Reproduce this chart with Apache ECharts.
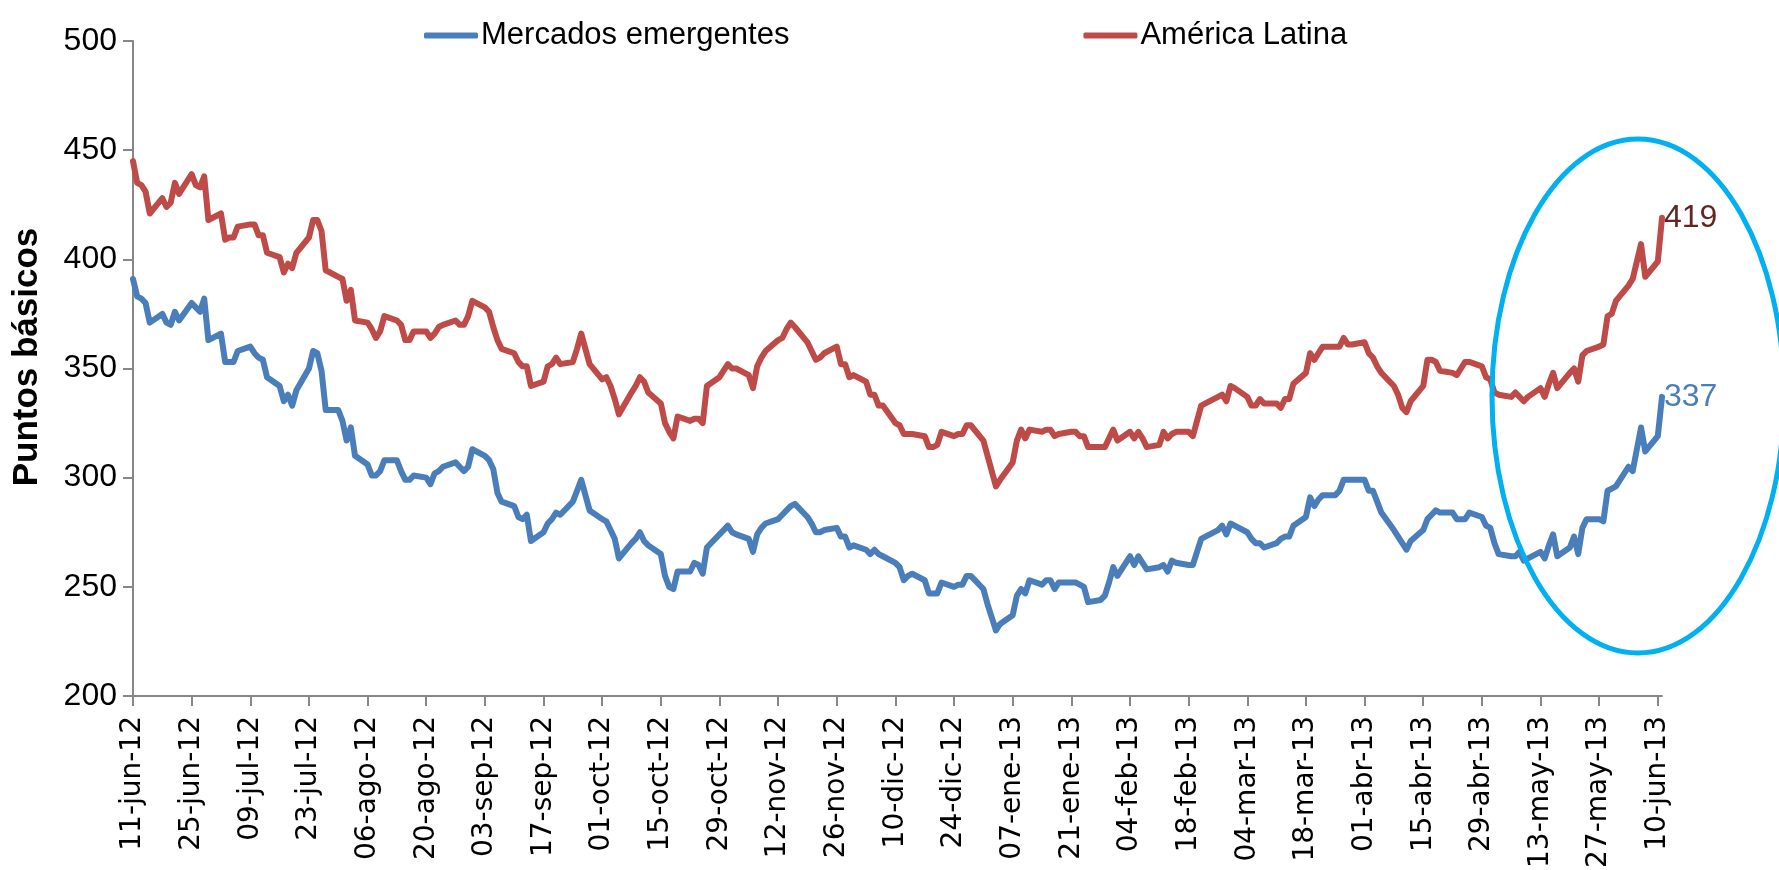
<!DOCTYPE html>
<html>
<head>
<meta charset="utf-8">
<title>Spreads</title>
<script src="https://cdn.jsdelivr.net/npm/echarts@6/dist/echarts.min.js"></script>
<style>
  html, body { margin: 0; padding: 0; background: #fff; }
  #chart { width: 1779px; height: 870px; }
</style>
</head>
<body>
<div id="chart"></div>
<script>
// valores diarios (solo dias habiles), desde 11-jun-12 hasta 11-jun-13
const latam = [
  445, 435, 434, 431, 421,  428, 424, 426, 435, 430,  439, 434, 433, 438, 418,
  421, 409, 410, 410, 415,  416, 416, 411, 411, 403,  401, 394, 398, 396, 403,
  410, 418, 418, 413, 395,  392, 391, 381, 386, 372,  371, 368, 364, 367, 374,
  372, 370, 363, 363, 367,  367, 364, 366, 369, 370,  372, 370, 370, 374, 381,
  378, 376, 369, 363, 359,  357, 353, 351, 351, 342,  344, 351, 352, 355, 352,
  353, 359, 366, 359, 352,  345, 346, 342, 336, 329,  339, 342, 346, 344, 339,
  334, 325, 321, 318, 328,  326, 327, 327, 325, 342,  346, 349, 352, 350, 350,
  347, 341, 351, 355, 358,  363, 364, 368, 371, 369,  362, 358, 354, 355, 357,
  360, 352, 352, 346, 347,  344, 338, 338, 333, 333,  325, 324, 320, 320, 320,
  319, 314, 314, 315, 321,  319, 320, 320, 324, 324,  317, 310, 303, 296, 299,
  307, 317, 322, 318, 322,  321, 322, 322, 319, 320,  321, 321, 319, 319, 314,
  314, 314, 318, 322, 317,  321, 318, 321, 318, 314,  315, 321, 318, 320, 321,
  321, 319, 326, 333, 334,  337, 338, 335, 342, 341,  337, 333, 333, 336, 334,
  334, 332, 336, 336, 343,  348, 357, 354, 357, 360,  360, 360, 364, 361, 361,
  362, 357, 355, 351, 348,  342, 338, 332, 330, 335,  342, 354, 354, 353, 349,
  348, 347, 350, 353, 353,  351, 346, 345, 339, 338,  337, 339, 337, 335, 337,
  341, 337, 343, 348, 341,  348, 350, 344, 356, 358,  360, 361, 374, 375, 381,
  388, 391, 399, 407, 392,  399, 419
];
const emergentes = [
  391, 383, 382, 380, 371,  375, 371, 370, 376, 372,  380, 378, 376, 382, 363,
  366, 353, 353, 353, 358,  360, 357, 355, 354, 346,  342, 335, 338, 333, 340,
  350, 358, 357, 349, 331,  331, 326, 317, 323, 310,  306, 301, 301, 303, 308,
  308, 303, 299, 299, 301,  300, 297, 302, 303, 305,  307, 305, 303, 305, 313,
  310, 308, 304, 293, 289,  287, 282, 281, 283, 271,  275, 279, 281, 284, 283,
  289, 294, 299, 292, 285,  281, 280, 276, 272, 263,  270, 272, 275, 271, 269,
  265, 255, 250, 249, 257,  257, 261, 260, 256, 268,  274, 276, 278, 275, 274,
  272, 266, 274, 277, 279,  281, 283, 285, 287, 288,  282, 279, 275, 275, 276,
  277, 273, 273, 268, 269,  267, 265, 267, 265, 264,  261, 259, 253, 255, 256,
  253, 247, 247, 247, 252,  250, 251, 251, 255, 255,  249, 242, 236, 230, 233,
  237, 246, 249, 247, 253,  251, 253, 253, 249, 252,  252, 252, 251, 250, 243,
  244, 246, 252, 259, 255,  264, 260, 264, 261, 258,  259, 260, 257, 262, 261,
  260, 260, 266, 272, 273,  276, 278, 274, 279, 278,  275, 272, 270, 270, 268,
  270, 272, 273, 273, 278,  282, 291, 287, 290, 292,  292, 294, 299, 299, 299,
  299, 294, 294, 289, 284,  276, 273, 270, 267, 271,  276, 281, 283, 285, 284,
  284, 281, 281, 281, 284,  282, 278, 277, 270, 265,  264, 264, 266, 262, 263,
  266, 263, 269, 274, 264,  268, 273, 265, 277, 281,  281, 280, 294, 295, 296,
  305, 303, 313, 323, 312,  319, 337
];
const tickLabels = [
  '11-jun-12', '25-jun-12', '09-jul-12', '23-jul-12', '06-ago-12', '20-ago-12',
  '03-sep-12', '17-sep-12', '01-oct-12', '15-oct-12', '29-oct-12', '12-nov-12',
  '26-nov-12', '10-dic-12', '24-dic-12', '07-ene-13', '21-ene-13', '04-feb-13',
  '18-feb-13', '04-mar-13', '18-mar-13', '01-abr-13', '15-abr-13', '29-abr-13',
  '13-may-13', '27-may-13', '10-jun-13'
];
const seriesNames = ['Mercados emergentes', 'América Latina'];

// eje de fechas corridas; los fines de semana quedan vacios y la linea los une
const days = [];
const dataLat = [];
const dataEm = [];
let k = 0;
for (let d = 0; d <= 365; d++) {
  const dt = new Date(2012, 5, 11 + d);
  days.push(dt.getFullYear() + '-' + (dt.getMonth() + 1) + '-' + dt.getDate());
  const wd = dt.getDay();
  if (wd >= 1 && wd <= 5) {
    dataLat.push(latam[k]);
    dataEm.push(emergentes[k]);
    k++;
  } else {
    dataLat.push(null);
    dataEm.push(null);
  }
}

const chart = echarts.init(document.getElementById('chart'));
const axisGray = '#878787';
const option = {
  animation: false,
  backgroundColor: '#fff',
  legend: {
    top: 15,
    left: 419,
    icon: 'roundRect',
    itemWidth: 54,
    itemHeight: 6,
    itemGap: 294,
    textStyle: { fontFamily: 'Liberation Sans', fontSize: 31, color: '#000', padding: [0, 0, 0, -2] },
    data: seriesNames
  },
  grid: { left: 133, right: 117, top: 41, bottom: 174, containLabel: false, outerBoundsMode: 'none' },
  xAxis: {
    type: 'category',
    boundaryGap: false,
    data: days,
    axisLine: { lineStyle: { color: axisGray, width: 2 } },
    axisTick: { interval: 13, length: 10, lineStyle: { color: axisGray, width: 2 } },
    axisLabel: {
      interval: 13,
      rotate: 90,
      margin: 20,
      fontFamily: 'DejaVu Sans',
      fontSize: 28,
      color: '#000',
      formatter: function (v, i) { return tickLabels[i / 14] || ''; }
    },
    splitLine: { show: false }
  },
  yAxis: {
    type: 'value',
    min: 200,
    max: 500,
    interval: 50,
    axisLine: { show: true, lineStyle: { color: axisGray, width: 2 } },
    axisTick: { show: true, length: 10, lineStyle: { color: axisGray, width: 2 } },
    axisLabel: { margin: 16, fontFamily: 'Liberation Sans', fontSize: 32, color: '#000' },
    splitLine: { show: false }
  },
  series: [
    {
      name: seriesNames[0],
      type: 'line',
      data: dataEm,
      connectNulls: true,
      symbol: 'none',
      color: '#4A7EBB',
      lineStyle: { color: '#4A7EBB', width: 6, cap: 'round', join: 'round' },
      endLabel: {
        show: true,
        distance: 2,
        formatter: function (p) { return p.value; },
        fontFamily: 'Liberation Sans',
        fontSize: 32,
        color: '#4A7EBB'
      }
    },
    {
      name: seriesNames[1],
      type: 'line',
      data: dataLat,
      connectNulls: true,
      symbol: 'none',
      color: '#BE4B48',
      lineStyle: { color: '#BE4B48', width: 6, cap: 'round', join: 'round' },
      endLabel: {
        show: true,
        distance: 2,
        formatter: function (p) { return p.value; },
        fontFamily: 'Liberation Sans',
        fontSize: 32,
        color: '#632523'
      }
    }
  ],
  graphic: [
    {
      // titulo del eje vertical
      type: 'text',
      x: 27,
      y: 357,
      rotation: Math.PI / 2,
      style: {
        text: 'Puntos básicos',
        fontFamily: 'Liberation Sans',
        fontWeight: 'bold',
        fontSize: 35,
        fill: '#000',
        align: 'center',
        verticalAlign: 'middle'
      }
    },
    {
      type: 'ellipse',
      z: 100,
      shape: { cx: 1638, cy: 396, rx: 146, ry: 257 },
      style: { fill: null, stroke: '#00B0F0', lineWidth: 5 }
    }
  ]
};
chart.setOption(option);
window.addEventListener('resize', function () {
  chart.resize();
});
</script>
</body>
</html>
